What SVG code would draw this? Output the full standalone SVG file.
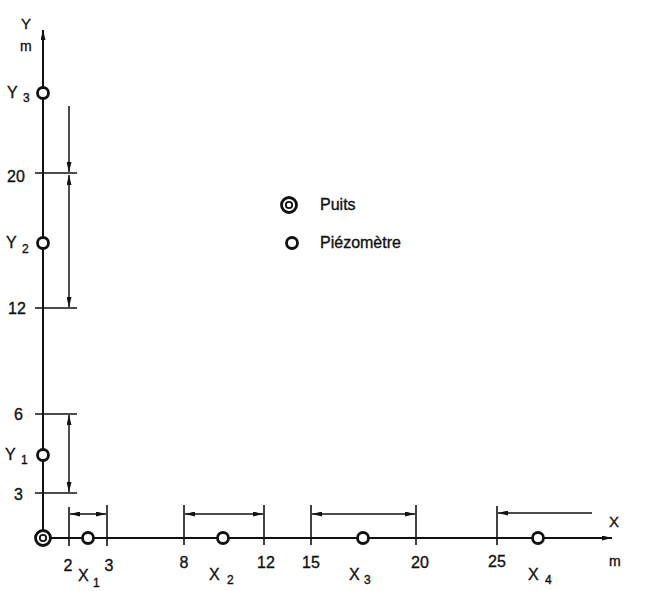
<svg xmlns="http://www.w3.org/2000/svg" width="651" height="591" viewBox="0 0 651 591">
<style>
.ax{stroke:#111;stroke-width:2;fill:none}
.tk{stroke:#111;stroke-width:1.6;fill:none}
.dim{stroke:#111;stroke-width:1.5;fill:none}
.pz{stroke:#111;stroke-width:2.8;fill:#fff}
text{font-family:"Liberation Sans",Arial,sans-serif;fill:#111;font-size:16px;stroke:#111;stroke-width:0.35}
.sub{font-size:12px}
.num{text-anchor:middle}
</style>
<defs>
<marker id="ar" viewBox="0 0 10 5" refX="10" refY="2.5" markerWidth="10" markerHeight="5" markerUnits="userSpaceOnUse" orient="auto-start-reverse">
<path d="M0,0 L10,2.5 L0,5 z" fill="#111"/>
</marker>
</defs>
<rect width="651" height="591" fill="#fff"/>
<g id="axes">
<line class="ax" x1="43" y1="538" x2="43" y2="30" marker-end="url(#ar)"/>
<line class="ax" x1="43" y1="538" x2="612" y2="538" marker-end="url(#ar)"/>
<text x="21" y="29" style="font-size:15px">Y</text>
<text x="20" y="51" style="font-size:14px">m</text>
<text x="609" y="527" style="font-size:15px">X</text>
<text x="609" y="566" style="font-size:14px">m</text>
</g>
<g id="y-ticks">
<line class="tk" x1="35" y1="173" x2="77" y2="173"/>
<line class="tk" x1="35" y1="308" x2="77" y2="308"/>
<line class="tk" x1="35" y1="414" x2="77" y2="414"/>
<line class="tk" x1="35" y1="493" x2="77" y2="493"/>
<text x="7" y="182">20</text>
<text x="8" y="314">12</text>
<text x="14" y="420">6</text>
<text x="14" y="500">3</text>
</g>
<g id="x-ticks">
<line class="tk" x1="69" y1="507" x2="69" y2="546"/>
<line class="tk" x1="107" y1="505" x2="107" y2="546"/>
<line class="tk" x1="184" y1="505" x2="184" y2="545"/>
<line class="tk" x1="264" y1="505" x2="264" y2="545"/>
<line class="tk" x1="311" y1="505" x2="311" y2="545"/>
<line class="tk" x1="416" y1="505" x2="416" y2="545"/>
<line class="tk" x1="497" y1="506" x2="497" y2="545"/>
<text class="num" x="68" y="571">2</text>
<text class="num" x="109" y="571">3</text>
<text class="num" x="184" y="568">8</text>
<text class="num" x="266" y="568">12</text>
<text class="num" x="311" y="568">15</text>
<text class="num" x="420" y="568">20</text>
<text class="num" x="497" y="567">25</text>
</g>
<g id="dimensions">
<line class="dim" x1="69" y1="106" x2="69" y2="172" marker-end="url(#ar)"/>
<line class="dim" x1="69" y1="175" x2="69" y2="307" marker-start="url(#ar)" marker-end="url(#ar)"/>
<line class="dim" x1="69" y1="415" x2="69" y2="492" marker-start="url(#ar)" marker-end="url(#ar)"/>
<line class="dim" x1="70" y1="514" x2="106" y2="514" marker-start="url(#ar)" marker-end="url(#ar)"/>
<line class="dim" x1="185" y1="514" x2="263" y2="514" marker-start="url(#ar)" marker-end="url(#ar)"/>
<line class="dim" x1="312" y1="514" x2="415" y2="514" marker-start="url(#ar)" marker-end="url(#ar)"/>
<line class="dim" x1="592" y1="513" x2="498" y2="513" marker-end="url(#ar)"/>
</g>
<g id="well">
<circle cx="43" cy="538" r="7.5" fill="#fff" stroke="#111" stroke-width="2.8"/>
<circle cx="43" cy="538" r="3.2" fill="none" stroke="#111" stroke-width="1.8"/>
</g>
<g id="Y3"><circle class="pz" cx="43" cy="93" r="5.5"/><text x="7" y="98">Y</text><text class="sub" x="23" y="102">3</text></g>
<g id="Y2"><circle class="pz" cx="43" cy="243" r="5.5"/><text x="6" y="248">Y</text><text class="sub" x="22" y="253">2</text></g>
<g id="Y1"><circle class="pz" cx="43" cy="455" r="5.5"/><text x="5" y="460">Y</text><text class="sub" x="21" y="464">1</text></g>
<g id="X1"><circle class="pz" cx="88" cy="538" r="5.5"/><text x="78" y="581">X</text><text class="sub" x="93" y="587">1</text></g>
<g id="X2"><circle class="pz" cx="223" cy="538" r="5.5"/><text x="209" y="580">X</text><text class="sub" x="227" y="584">2</text></g>
<g id="X3"><circle class="pz" cx="363" cy="538" r="5.5"/><text x="349" y="580">X</text><text class="sub" x="364" y="584">3</text></g>
<g id="X4"><circle class="pz" cx="538" cy="538" r="5.5"/><text x="528" y="580">X</text><text class="sub" x="545" y="584">4</text></g>
<g id="legend">
<circle cx="289" cy="205" r="7.5" fill="#fff" stroke="#111" stroke-width="2.8"/>
<circle cx="289" cy="205" r="3.2" fill="none" stroke="#111" stroke-width="1.8"/>
<text x="320" y="210">Puits</text>
<circle class="pz" cx="292" cy="243" r="5.5"/>
<text x="320" y="248">Piézomètre</text>
</g>
</svg>
